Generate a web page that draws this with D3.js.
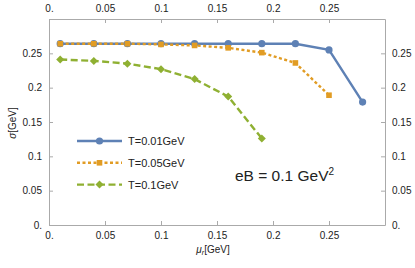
<!DOCTYPE html>
<html>
<head>
<meta charset="utf-8">
<script src="https://d3js.org/d3.v7.min.js"></script>
<style>
  body { margin: 0; background: #fff; }
  text { font-family: "Liberation Sans", Arial, sans-serif; fill: #222; }
</style>
</head>
<body>
<div class="chart"></div>
<script>
// data
var muValues = [0.01, 0.04, 0.07, 0.1, 0.13, 0.16, 0.19, 0.22, 0.25, 0.28];
var sigmaT001 = [0.264, 0.264, 0.264, 0.264, 0.264, 0.264, 0.264, 0.264, 0.255, 0.179];
var sigmaT005 = [0.264, 0.264, 0.264, 0.263, 0.2615, 0.258, 0.251, 0.236, 0.189];
var sigmaT01 = [0.241, 0.239, 0.235, 0.227, 0.2125, 0.187, 0.126];
var seriesNames = ["T=0.01GeV", "T=0.05GeV", "T=0.1GeV"];
var xTicks = [0, 0.05, 0.1, 0.15, 0.2, 0.25];
var yTicks = [0, 0.05, 0.1, 0.15, 0.2, 0.25];

var svgWidth = 415;
var svgHeight = 268;
var margin = { top: 19, right: 30, bottom: 43, left: 49 };
var width = svgWidth - margin.left - margin.right;
var height = svgHeight - margin.top - margin.bottom;

var svg = d3.select(".chart")
    .append("svg")
    .attr("width", svgWidth)
    .attr("height", svgHeight);

var chart = svg.append("g")
    .attr("transform", "translate(" + margin.left + "," + margin.top + ")");

var xScale = d3.scaleLinear().domain([0, 0.3]).range([0, width]);
var yScale = d3.scaleLinear().domain([0, 0.3]).range([height, 0]);

function fmt(d) { return d === 0 ? "0." : String(d); }

// frame with inward ticks
var axes = [
    { axis: d3.axisBottom(xScale).tickValues(xTicks), t: "translate(0," + height + ")" },
    { axis: d3.axisTop(xScale).tickValues(xTicks), t: "translate(0,0)" },
    { axis: d3.axisLeft(yScale).tickValues(yTicks), t: "translate(0,0)" },
    { axis: d3.axisRight(yScale).tickValues(yTicks), t: "translate(" + width + ",0)" }
];
axes.forEach(function(a) {
    var g = chart.append("g")
        .attr("transform", a.t)
        .call(a.axis.tickFormat(fmt).tickSizeInner(-4).tickSizeOuter(0).tickPadding(7));
    g.select(".domain").attr("stroke", "#aaa");
    g.selectAll(".tick line").attr("stroke", "#aaa");
    g.selectAll(".tick text").attr("font-size", "10px").attr("fill", "#222")
        .attr("font-family", "Liberation Sans, Arial, sans-serif");
});

var series = [
    { name: seriesNames[0], x: muValues, y: sigmaT001, color: "#5E81B5", dash: null, marker: "circle" },
    { name: seriesNames[1], x: muValues, y: sigmaT005, color: "#E19C24", dash: "3,2.5", marker: "square" },
    { name: seriesNames[2], x: muValues, y: sigmaT01, color: "#8FB032", dash: "7,3.5", marker: "diamond" }
];

var line = d3.line()
    .x(function(d) { return xScale(d[0]); })
    .y(function(d) { return yScale(d[1]); });

function drawMarker(g, kind, cx, cy, color) {
    if (kind === "circle") {
        g.append("circle").attr("cx", cx).attr("cy", cy).attr("r", 3.6).attr("fill", color);
    } else if (kind === "square") {
        g.append("rect").attr("x", cx - 2.8).attr("y", cy - 2.8)
            .attr("width", 5.6).attr("height", 5.6).attr("fill", color);
    } else {
        g.append("path")
            .attr("d", "M" + cx + "," + (cy - 4) + "L" + (cx + 4) + "," + cy + "L" + cx + "," + (cy + 4) + "L" + (cx - 4) + "," + cy + "Z")
            .attr("fill", color);
    }
}

series.forEach(function(s) {
    var pts = s.y.map(function(v, i) { return [s.x[i], v]; });
    chart.append("path")
        .datum(pts)
        .attr("d", line)
        .attr("fill", "none")
        .attr("stroke", s.color)
        .attr("stroke-width", 2.4)
        .attr("stroke-dasharray", s.dash);
    var mg = chart.append("g");
    pts.forEach(function(p) {
        drawMarker(mg, s.marker, xScale(p[0]), yScale(p[1]), s.color);
    });
});

// legend
var legend = svg.append("g");
series.forEach(function(s, i) {
    var y = 141 + i * 21.8;
    legend.append("line")
        .attr("x1", 77).attr("x2", 122).attr("y1", y).attr("y2", y)
        .attr("stroke", s.color).attr("stroke-width", 2.4)
        .attr("stroke-dasharray", s.dash);
    drawMarker(legend, s.marker, 99.5, y, s.color);
    legend.append("text")
        .attr("x", 128).attr("y", y + 4)
        .attr("font-size", "11px")
        .text(s.name);
});

// annotation
var ann = svg.append("text")
    .attr("x", 235).attr("y", 180.5)
    .attr("font-size", "15.5px");
ann.append("tspan").text("eB = 0.1 GeV");
ann.append("tspan").attr("dy", -6).attr("font-size", "10px").text("2");

// axis labels
svg.append("text")
    .attr("transform", "translate(16," + 123 + ") rotate(-90)")
    .attr("text-anchor", "middle")
    .attr("font-size", "10px")
    .html("<tspan font-style='italic'>σ</tspan>[GeV]");

var xl = svg.append("text")
    .attr("x", 213).attr("y", 253)
    .attr("text-anchor", "middle")
    .attr("font-size", "10px");
xl.append("tspan").attr("font-style", "italic").text("μ");
xl.append("tspan").attr("font-style", "italic").attr("font-size", "7px").attr("dy", 2).text("r");
xl.append("tspan").attr("dy", -2).text("[GeV]");
</script>
</body>
</html>
